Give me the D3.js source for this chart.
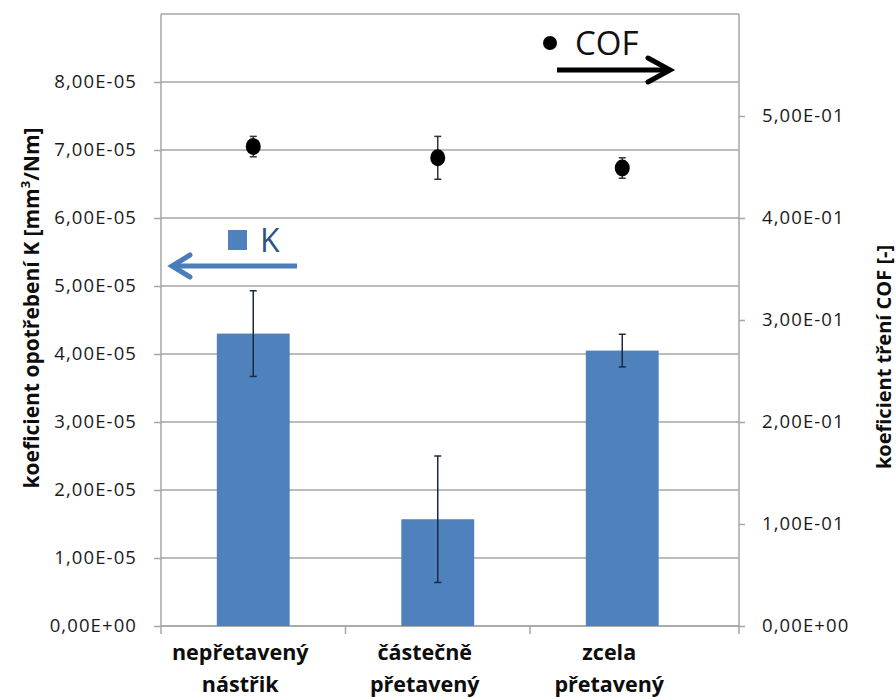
<!DOCTYPE html>
<html>
<head>
<meta charset="utf-8">
<script src="https://cdn.jsdelivr.net/npm/d3@7"></script>
<style>
  body { margin: 0; background: #fff; }
  svg { display: block; font-family: "Open Sans", sans-serif; }
</style>
</head>
<body>
<div id="chart"></div>
<script>
// Data
const categories = ["nepřetavený\nnástřik", "částečně\npřetavený", "zcela\npřetavený"];
const kValues = [4.30e-5, 1.57e-5, 4.05e-5];
const kErrors = [0.63e-5, 0.93e-5, 0.24e-5];
const cofValues = [0.470, 0.459, 0.449];
const cofErrors = [0.010, 0.021, 0.010];
const kTicks = [0, 1e-5, 2e-5, 3e-5, 4e-5, 5e-5, 6e-5, 7e-5, 8e-5];
const cofTicks = [0, 0.1, 0.2, 0.3, 0.4, 0.5];

const width = 896, height = 697;
const plot = { left: 161, right: 739, top: 14, bottom: 626, catRight: 714.5 };

const svg = d3.select("#chart").append("svg")
    .attr("width", width)
    .attr("height", height);

// Scales
const x = d3.scaleBand()
    .domain(categories)
    .range([plot.left, plot.catRight])
    .padding(0);

const yK = d3.scaleLinear().domain([0, 9e-5]).range([plot.bottom, plot.top]);
const yC = d3.scaleLinear().domain([0, 0.6]).range([plot.bottom, plot.top]);

// 8.00e-5 -> 8,00E-05
function sci(v) {
    const [m, e] = v.toExponential(2).split("e");
    const sign = e[0] === "-" ? "-" : "+";
    const exp = Math.abs(+e).toString().padStart(2, "0");
    return m.replace(".", ",") + "E" + sign + exp;
}

const gridColor = "#a6a6a6";

// Gridlines (left axis values, including top 9E-05)
svg.append("g")
    .selectAll("line")
    .data(kTicks.concat([9e-5]))
    .enter()
    .append("line")
    .attr("x1", plot.left)
    .attr("x2", plot.right)
    .attr("y1", d => yK(d))
    .attr("y2", d => yK(d))
    .attr("stroke", gridColor)
    .attr("stroke-width", 1.5);

// Left axis
const axisL = svg.append("g")
    .attr("transform", `translate(${plot.left},0)`)
    .call(d3.axisLeft(yK).tickValues(kTicks).tickSize(7).tickPadding(17).tickFormat(sci));

// Right axis
const axisR = svg.append("g")
    .attr("transform", `translate(${plot.right},0)`)
    .call(d3.axisRight(yC).tickValues(cofTicks).tickSize(6).tickPadding(17).tickFormat(sci));

[axisL, axisR].forEach(a => {
    a.attr("font-family", "'Open Sans', sans-serif");
    a.select(".domain").attr("stroke", gridColor).attr("stroke-width", 1.5)
        .attr("d", `M0,${plot.bottom}V${plot.top}`);
    a.selectAll(".tick line").attr("stroke", gridColor).attr("stroke-width", 1.5);
    a.selectAll(".tick text")
        .attr("fill", "#1a1a1a")
        .style("font-size", "18.5px")
        .style("letter-spacing", "1.1px");
});

// Bottom axis line + category ticks
svg.append("line")
    .attr("x1", plot.left).attr("x2", plot.right)
    .attr("y1", plot.bottom).attr("y2", plot.bottom)
    .attr("stroke", gridColor).attr("stroke-width", 1.5);

const catTicks = categories.map(c => x(c)).concat([plot.right]);
svg.append("g")
    .selectAll("line")
    .data(catTicks)
    .enter()
    .append("line")
    .attr("x1", d => d).attr("x2", d => d)
    .attr("y1", plot.bottom).attr("y2", plot.bottom + 8)
    .attr("stroke", gridColor).attr("stroke-width", 1.5);

// Category labels
const catLabels = svg.append("g")
    .selectAll("text")
    .data(categories)
    .enter()
    .append("text")
    .attr("text-anchor", "middle")
    .attr("fill", "#0d0d0d")
    .style("font-size", "21.5px")
    .style("font-weight", "bold");

catLabels.each(function (d) {
    const t = d3.select(this);
    const cx = x(d) + x.bandwidth() / 2 - 13;
    d.split("\n").forEach((line, i) => {
        t.append("tspan")
            .attr("x", cx)
            .attr("y", 660 + i * 32)
            .text(line);
    });
});

// Bars (K)
const barW = x.bandwidth() * 0.395;
svg.append("g")
    .selectAll("rect")
    .data(categories)
    .enter()
    .append("rect")
    .attr("x", d => x(d) + x.bandwidth() / 2 - barW / 2)
    .attr("width", barW)
    .attr("y", (d, i) => yK(kValues[i]))
    .attr("height", (d, i) => plot.bottom - yK(kValues[i]))
    .attr("fill", "#4f81bd");

// Error bars helper
function errorBars(values, errors, scale, color, cap) {
    const g = svg.append("g").attr("stroke", color).attr("stroke-width", 1.5);
    categories.forEach((c, i) => {
        const cx = x(c) + x.bandwidth() / 2;
        const top = scale(values[i] + errors[i]);
        const bot = scale(values[i] - errors[i]);
        g.append("line").attr("x1", cx).attr("x2", cx).attr("y1", top).attr("y2", bot);
        g.append("line").attr("x1", cx - cap).attr("x2", cx + cap).attr("y1", top).attr("y2", top);
        g.append("line").attr("x1", cx - cap).attr("x2", cx + cap).attr("y1", bot).attr("y2", bot);
    });
}

errorBars(kValues, kErrors, yK, "#1b2a44", 3.5);

// COF points
errorBars(cofValues, cofErrors, yC, "#333", 3.5);
svg.append("g")
    .selectAll("ellipse")
    .data(categories)
    .enter()
    .append("ellipse")
    .attr("cx", d => x(d) + x.bandwidth() / 2)
    .attr("cy", (d, i) => yC(cofValues[i]))
    .attr("rx", 7.5)
    .attr("ry", 8.5)
    .attr("fill", "#000");

// Axis titles
svg.append("text")
    .attr("transform", `translate(39,${(plot.top + plot.bottom) / 2 - 12}) rotate(-90)`)
    .attr("text-anchor", "middle")
    .attr("fill", "#0d0d0d")
    .style("font-size", "21px")
    .style("font-weight", "bold")
    .html('koeficient opotřebení K [mm<tspan dy="-9" style="font-size:13px">3</tspan><tspan dy="9">/Nm]</tspan>');

svg.append("text")
    .attr("transform", `translate(891,357) rotate(-90)`)
    .attr("text-anchor", "middle")
    .attr("fill", "#0d0d0d")
    .style("font-size", "20px")
    .style("font-weight", "bold")
    .text("koeficient tření COF [-]");

// Legend annotation: COF (right axis)
svg.append("circle").attr("cx", 550).attr("cy", 43).attr("r", 7).attr("fill", "#000");
svg.append("text")
    .attr("x", 575).attr("y", 55)
    .attr("fill", "#111")
    .style("font-size", "33px")
    .text("COF");
svg.append("line")
    .attr("x1", 557).attr("x2", 669).attr("y1", 70).attr("y2", 70)
    .attr("stroke", "#000").attr("stroke-width", 5);
svg.append("path")
    .attr("d", "M648,58L670,70L648,82")
    .attr("fill", "none").attr("stroke", "#000").attr("stroke-width", 5)
    .attr("stroke-linecap", "round").attr("stroke-linejoin", "miter");

// Legend annotation: K (left axis)
svg.append("rect").attr("x", 228).attr("y", 230).attr("width", 19).attr("height", 20).attr("fill", "#4f81bd");
svg.append("text")
    .attr("x", 260).attr("y", 252)
    .attr("fill", "#2e5485")
    .style("font-size", "32px")
    .text("K");
svg.append("line")
    .attr("x1", 297).attr("x2", 173).attr("y1", 266).attr("y2", 266)
    .attr("stroke", "#4a7ebb").attr("stroke-width", 5);
svg.append("path")
    .attr("d", "M190,255L172,266L190,277")
    .attr("fill", "none").attr("stroke", "#4a7ebb").attr("stroke-width", 5)
    .attr("stroke-linecap", "round");
</script>
</body>
</html>
